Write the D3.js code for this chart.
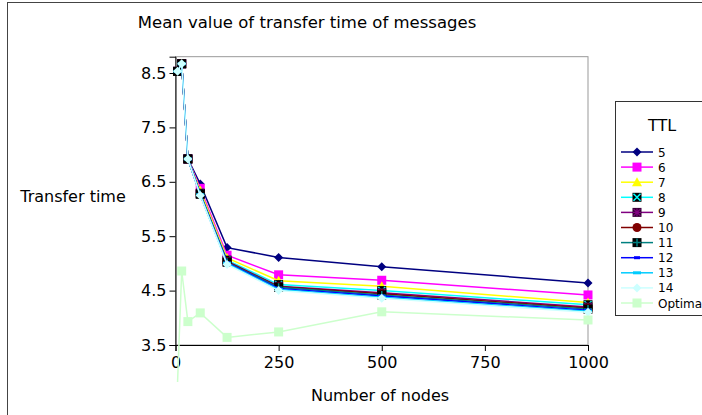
<!DOCTYPE html>
<html><head><meta charset="utf-8">
<script src="https://cdn.jsdelivr.net/npm/d3@7/dist/d3.min.js"></script>
<style>body{margin:0;background:#fff;}svg{display:block;font-family:"DejaVu Sans",sans-serif;}</style>
</head><body><svg id="c" width="702" height="415"></svg>
<script>
const nodes = [5, 15, 30, 60, 125, 250, 500, 1000];
const ttl5  = [8.53, 8.67, 6.92, 6.46, 5.29, 5.11, 4.94, 4.64];
const ttl6  = [8.53, 8.67, 6.92, 6.38, 5.15, 4.79, 4.69, 4.42];
const ttl7  = [8.53, 8.67, 6.92, 6.34, 5.10, 4.68, 4.58, 4.28];
const ttl8  = [8.53, 8.67, 6.92, 6.29, 5.06, 4.61, 4.50, 4.24];
const ttl9  = [8.53, 8.67, 6.92, 6.28, 5.04, 4.58, 4.46, 4.20];
const ttl10 = [8.53, 8.67, 6.92, 6.27, 5.03, 4.57, 4.44, 4.18];
const ttl11 = [8.53, 8.67, 6.92, 6.27, 5.02, 4.56, 4.42, 4.16];
const ttl12 = [8.53, 8.67, 6.92, 6.26, 5.01, 4.54, 4.40, 4.14];
const ttl13 = [8.53, 8.67, 6.92, 6.26, 5.00, 4.52, 4.38, 4.12];
const ttl14 = [8.53, 8.67, 6.92, 6.25, 4.98, 4.50, 4.36, 4.10];
const optimal = [2.82, 4.86, 3.93, 4.09, 3.64, 3.74, 4.11, 3.96];
const seriesNames = ["5","6","7","8","9","10","11","12","13","14","Optima"];
const xTicks = [0, 250, 500, 750, 1000];
const yTicks = [3.5, 4.5, 5.5, 6.5, 7.5, 8.5];

const seriesData = [ttl5, ttl6, ttl7, ttl8, ttl9, ttl10, ttl11, ttl12, ttl13, ttl14, optimal];
const styles = [
  {c:"#000080", m:"diamond"},
  {c:"#ff00ff", m:"square"},
  {c:"#ffff00", m:"triangle"},
  {c:"#00ffff", m:"xbox"},
  {c:"#800080", m:"star"},
  {c:"#800000", m:"circle"},
  {c:"#008080", m:"plus"},
  {c:"#0000ff", m:"dash"},
  {c:"#00ccff", m:"dash2"},
  {c:"#ccffff", m:"diamond"},
  {c:"#ccffcc", m:"square"}
];

const svg = d3.select("#c");
const L = 175.5, R = 588, B = 345;
const yMax = 8.8;
const pxPerUnit = 54.4;
const T = B - (yMax - 3.5) * pxPerUnit;
const x = d3.scaleLinear().domain([0, 1000]).range([L, R]);
const y = d3.scaleLinear().domain([3.5, yMax]).range([B, T]);

// outer frame
svg.append("rect").attr("x", 7.5).attr("y", 2.5).attr("width", 720).attr("height", 440)
  .attr("fill", "none").attr("stroke", "#444").attr("stroke-width", 1);

// title
svg.append("text").attr("x", 307).attr("y", 28).attr("text-anchor", "middle")
  .attr("font-size", 16.5).attr("fill", "#000").text("Mean value of transfer time of messages");

// plot border (top/right gray)
svg.append("rect").attr("x", L).attr("y", T).attr("width", R - L).attr("height", B - T)
  .attr("fill", "none").attr("stroke", "#999").attr("stroke-width", 1);

// axes
const xAxis = svg.append("g").attr("transform", `translate(0,${B})`)
  .call(d3.axisBottom(x).tickValues(xTicks).tickSize(6).tickPadding(3).tickFormat(d3.format("d")));
const yAxis = svg.append("g").attr("transform", `translate(${L},0)`)
  .call(d3.axisLeft(y).tickValues(yTicks).tickSize(6).tickPadding(3).tickFormat(d3.format(".1f")));
[xAxis, yAxis].forEach(g => {
  g.selectAll("text").attr("font-size", 16).attr("fill", "#000").attr("font-family", "DejaVu Sans");
  g.selectAll("line").attr("stroke", "#000");
  g.select(".domain").attr("stroke", "#000");
});
xAxis.selectAll("text").attr("dy", "0.9em");

svg.append("text").attr("x", 380).attr("y", 401).attr("text-anchor", "middle")
  .attr("font-size", 16).text("Number of nodes");
svg.append("text").attr("x", 73).attr("y", 202).attr("text-anchor", "middle")
  .attr("font-size", 16).text("Transfer time");

function drawMarker(g, type, color, cx, cy) {
  const s = 4.5;
  if (type === "diamond") {
    g.append("path").attr("d", `M${cx},${cy-s}L${cx+s},${cy}L${cx},${cy+s}L${cx-s},${cy}Z`).attr("fill", color);
  } else if (type === "square") {
    g.append("rect").attr("x", cx-4.5).attr("y", cy-4.5).attr("width", 9).attr("height", 9).attr("fill", color);
  } else if (type === "triangle") {
    g.append("path").attr("d", `M${cx},${cy-5}L${cx+5},${cy+4}L${cx-5},${cy+4}Z`).attr("fill", color);
  } else if (type === "xbox") {
    g.append("rect").attr("x", cx-4.5).attr("y", cy-4.5).attr("width", 9).attr("height", 9).attr("fill", "#000");
    g.append("path").attr("d", `M${cx-3.5},${cy-3.5}L${cx+3.5},${cy+3.5}M${cx+3.5},${cy-3.5}L${cx-3.5},${cy+3.5}`)
      .attr("stroke", color).attr("stroke-width", 1.5);
  } else if (type === "star") {
    g.append("rect").attr("x", cx-4.5).attr("y", cy-4.5).attr("width", 9).attr("height", 9).attr("fill", "#300030");
    g.append("path").attr("d", `M${cx-3.5},${cy-3.5}L${cx+3.5},${cy+3.5}M${cx+3.5},${cy-3.5}L${cx-3.5},${cy+3.5}M${cx},${cy-4}L${cx},${cy+4}M${cx-4},${cy}L${cx+4},${cy}`)
      .attr("stroke", color).attr("stroke-width", 1.2);
  } else if (type === "circle") {
    g.append("circle").attr("cx", cx).attr("cy", cy).attr("r", 4.5).attr("fill", color);
  } else if (type === "plus") {
    g.append("rect").attr("x", cx-4.5).attr("y", cy-4.5).attr("width", 9).attr("height", 9).attr("fill", "#000");
    g.append("path").attr("d", `M${cx},${cy-4}L${cx},${cy+4}M${cx-4},${cy}L${cx+4},${cy}`)
      .attr("stroke", color).attr("stroke-width", 1.5);
  } else if (type === "dash") {
    g.append("rect").attr("x", cx-3).attr("y", cy-1.5).attr("width", 6).attr("height", 3).attr("fill", color);
  } else if (type === "dash2") {
    g.append("rect").attr("x", cx-4).attr("y", cy-1.5).attr("width", 8).attr("height", 3).attr("fill", color);
  }
}

const line = d3.line().x(d => x(d[0])).y(d => y(d[1]));
seriesData.forEach((vals, i) => {
  const st = styles[i];
  const pts = nodes.map((n, j) => [n, vals[j]]);
  const g = svg.append("g");
  g.append("path").attr("d", line(pts)).attr("fill", "none").attr("stroke", st.c).attr("stroke-width", 1.5);
  pts.forEach(p => {
    if (p[1] >= 3.5) drawMarker(g, st.m, st.c, x(p[0]), y(p[1]));
  });
});

// legend
const lg = svg.append("g");
lg.append("rect").attr("x", 615.5).attr("y", 101.5).attr("width", 100).attr("height", 214)
  .attr("fill", "#fff").attr("stroke", "#333").attr("stroke-width", 1);
lg.append("text").attr("x", 662).attr("y", 131).attr("text-anchor", "middle").attr("font-size", 16).text("TTL");
seriesNames.forEach((name, i) => {
  const st = styles[i];
  const cy = 152 + i * 15.1;
  lg.append("line").attr("x1", 621).attr("x2", 653).attr("y1", cy).attr("y2", cy)
    .attr("stroke", st.c).attr("stroke-width", 1.5);
  drawMarker(lg, st.m, st.c, 637, cy);
  lg.append("text").attr("x", 658).attr("y", cy + 4.5).attr("font-size", 12).text(name);
});
</script></body></html>
